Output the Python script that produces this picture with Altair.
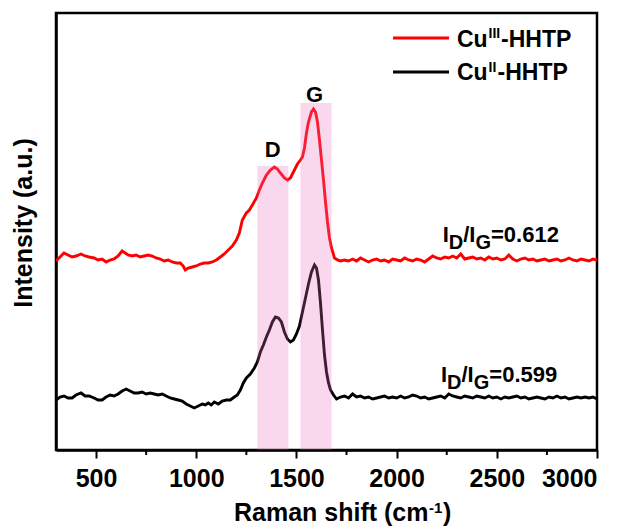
import altair as alt
import pandas as pd

FONT = "Liberation Sans"

# ---------------- data ----------------
shift_red_head = [300, 320, 340, 360, 380, 400, 425, 445, 465, 490,
                  510, 530, 550, 570, 590, 610, 630, 645, 660, 680,
                  700, 720, 740, 760, 780, 800, 820, 840, 860, 880,
                  900, 920, 935, 945, 960, 980, 1000, 1020, 1040, 1060,
                  1080, 1100, 1120, 1140, 1160, 1180, 1200, 1215, 1230, 1250,
                  1265, 1280, 1300, 1315, 1330, 1350, 1370, 1390, 1405, 1420,
                  1440, 1455, 1470, 1490, 1505, 1520, 1530, 1540, 1550, 1560,
                  1575, 1585, 1595, 1605, 1615, 1625, 1635, 1645, 1655, 1665,
                  1675, 1690, 1705]
int_red_head = [189, 193, 197, 195, 193, 194, 196, 194, 193, 192,
                190, 191, 188, 190, 191, 194, 199, 197, 195, 194,
                195, 193, 194, 195, 194, 192, 191, 189, 190, 188,
                187, 187, 184, 180, 182, 183, 184, 186, 187, 187,
                188, 190, 193, 196, 200, 204, 210, 217, 230, 237,
                240, 245, 252, 260, 267, 275, 280, 283, 281, 277,
                272, 270, 272, 280, 286, 290, 293, 302, 317, 328,
                338, 341, 338, 328, 310, 290, 270, 248, 228, 212,
                202, 192, 190]

shift_black_head = [300, 320, 340, 360, 380, 400, 425, 445, 465, 490,
                    510, 530, 550, 570, 590, 610, 630, 650, 670, 690,
                    710, 730, 750, 770, 790, 810, 830, 850, 870, 890,
                    910, 930, 950, 970, 990, 1010, 1030, 1045, 1060, 1075,
                    1090, 1110, 1130, 1150, 1170, 1190, 1205, 1220, 1235, 1250,
                    1270, 1290, 1305, 1320, 1335, 1350, 1365, 1380, 1395, 1410,
                    1425, 1440, 1455, 1470, 1485, 1500, 1515, 1530, 1545, 1560,
                    1575, 1590, 1600, 1610, 1620, 1630, 1640, 1650, 1660, 1670,
                    1685, 1700]
int_black_head = [50, 53, 54, 52, 52, 55, 57, 54, 54, 52,
                  50, 50, 53, 55, 54, 56, 59, 61, 59, 57,
                  57, 58, 56, 57, 56, 55, 56, 54, 52, 51,
                  50, 49, 46, 44, 42, 44, 46, 45, 47, 45,
                  48, 46, 49, 50, 50, 53, 55, 60, 67, 72,
                  76, 82, 88, 98, 105, 113, 120, 128, 133, 132,
                  128, 118, 111, 108, 110, 116, 124, 138, 152, 166,
                  178, 185, 182, 170, 147, 120, 95, 78, 67, 60,
                  55, 51]

shift_tail = [1720, 1740, 1760, 1780, 1800, 1820, 1840, 1860, 1880, 1900,
              1920, 1940, 1960, 1980, 2000, 2020, 2040, 2060, 2080, 2100,
              2120, 2140, 2160, 2180, 2200, 2220, 2240, 2260, 2280, 2300,
              2320, 2340, 2360, 2380, 2400, 2420, 2440, 2460, 2480, 2500,
              2520, 2540, 2560, 2580, 2600, 2620, 2640, 2660, 2680, 2700,
              2720, 2740, 2760, 2780, 2800, 2820, 2840, 2860, 2880, 2900,
              2920, 2940, 2960, 2980, 3000]
int_red_tail = [189, 190, 189, 191, 189, 192, 190, 188, 190, 191,
                189, 190, 188, 191, 190, 189, 192, 190, 189, 191,
                190, 188, 191, 194, 192, 191, 193, 192, 194, 192,
                196, 191, 192, 193, 191, 192, 190, 193, 191, 192,
                190, 191, 195, 191, 189, 191, 192, 190, 191, 189,
                190, 191, 189, 190, 191, 189, 190, 192, 190, 189,
                191, 190, 189, 191, 190]
int_black_tail = [53, 54, 52, 56, 53, 54, 52, 53, 51, 52,
                  53, 54, 52, 53, 52, 54, 52, 53, 55, 54,
                  52, 53, 51, 52, 53, 54, 52, 56, 54, 53,
                  52, 54, 53, 52, 54, 53, 52, 54, 52, 53,
                  51, 53, 52, 53, 54, 52, 53, 51, 52, 53,
                  52, 51, 53, 52, 54, 52, 53, 51, 52, 53,
                  52, 53, 52, 53, 51]

series_names = ["CuIII-HHTP", "CuII-HHTP"]
series_colors = ["#ff0000", "#000000"]

band_start = [1305, 1520]
band_end = [1460, 1675]
band_top = [284, 347]

x_ticks = [500, 1000, 1500, 2000, 2500, 3000]
x_minor = [750, 1250, 1750, 2250, 2750]

# ---------------- tables ----------------
shift_red = shift_red_head + shift_tail
int_red = int_red_head + int_red_tail
shift_black = shift_black_head + shift_tail
int_black = int_black_head + int_black_tail
assert len(shift_red) == len(int_red)
assert len(shift_black) == len(int_black)

lines_df = pd.DataFrame({
    "shift": shift_red + shift_black,
    "intensity": int_red + int_black,
    "sample": [series_names[0]] * len(shift_red) + [series_names[1]] * len(shift_black),
})
bands_df = pd.DataFrame({"start": band_start, "end": band_end, "top": band_top})
minor_df = pd.DataFrame({"v": x_minor})

W, H = 541, 437

xscale = alt.Scale(domain=[300, 3000], nice=False, zero=False)
yscale = alt.Scale(domain=[0, 437], nice=False, zero=False)
xaxis = alt.Axis(values=x_ticks, title=None, grid=False, tickSize=8, tickWidth=2,
                 tickColor="black", domainColor="black", domainWidth=2.5,
                 labelFont=FONT, labelFontSize=25, labelFontWeight="bold",
                 labelColor="black", labelPadding=8, format="d")
yaxis = alt.Axis(title=None, labels=False, ticks=False, grid=False,
                 domainColor="black", domainWidth=2.5)

lines = alt.Chart(lines_df).mark_line(strokeWidth=2.9, clip=True).encode(
    x=alt.X("shift:Q", scale=xscale, axis=xaxis),
    y=alt.Y("intensity:Q", scale=yscale, axis=yaxis),
    color=alt.Color("sample:N", scale=alt.Scale(domain=series_names, range=series_colors),
                    legend=None),
    detail="sample:N",
)

bands = alt.Chart(bands_df).mark_rect(color="#E86FC0", opacity=0.27).encode(
    x=alt.X("start:Q", scale=xscale, axis=xaxis),
    x2="end:Q",
    y=alt.Y("top:Q", scale=yscale, axis=yaxis),
    y2=alt.datum(0),
)

minor = alt.Chart(minor_df).mark_rule(color="black", strokeWidth=2).encode(
    x=alt.X("v:Q", scale=xscale, axis=xaxis),
    y=alt.value(H),
    y2=alt.value(H + 5),
)


def txt(s, x, y, size, align="left", angle=0):
    return alt.Chart(alt.Data(values=[{}])).mark_text(
        text=s, font=FONT, fontSize=size, fontWeight="bold", color="black",
        align=align, baseline="alphabetic", angle=angle,
    ).encode(x=alt.value(x), y=alt.value(y))


def band_label(s, xv, y):
    return alt.Chart(alt.Data(values=[{}])).mark_text(
        text=s, font=FONT, fontSize=22, fontWeight="bold", color="black",
        align="center", baseline="alphabetic",
    ).encode(x=alt.X(datum=xv, scale=xscale, axis=xaxis), y=alt.value(y))


def legend_rule(color, y):
    return alt.Chart(alt.Data(values=[{}])).mark_rule(color=color, strokeWidth=3).encode(
        x=alt.value(337), x2=alt.value(393), y=alt.value(y))


layers = [lines, bands, minor,
          band_label("D", 1382, 144), band_label("G", 1590, 89),
          legend_rule(series_colors[0], 25), legend_rule(series_colors[1], 59)]

# legend texts  Cu^III-HHTP / Cu^II-HHTP
layers += [txt("Cu", 401, 33.7, 23), txt("III", 432.5, 25.3, 14), txt("-HHTP", 445, 33.7, 23)]
layers += [txt("Cu", 401, 67, 23), txt("II", 432.5, 58.6, 14), txt("-HHTP", 441.5, 67, 23)]


def ratio_label(x0, yb, value):
    return [txt("I", x0, yb, 22), txt("D", x0 + 6.1, yb + 7, 20),
            txt("/I", x0 + 20.5, yb, 22), txt("G", x0 + 32.7, yb + 7, 20),
            txt("=" + value, x0 + 48.3, yb, 22)]


layers += ratio_label(386.7, 229.3, "0.612")
layers += ratio_label(385, 368.7, "0.599")

# axis titles
layers += [txt("Raman shift (cm", 178, 507.7, 25), txt("-1", 373, 500, 15),
           txt(")", 387, 507.7, 25)]
layers += [txt("Intensity (a.u.)", -24.3, 210, 25, align="center", angle=270)]

chart = alt.layer(*layers).properties(
    width=W, height=H,
    padding={"left": 56, "top": 13, "right": 35, "bottom": 81},
    autosize=alt.AutoSizeParams(type="none"),
).configure_view(stroke="black", strokeWidth=2.5)

chart.save("out.html", embed_options={"renderer": "svg", "actions": False})
